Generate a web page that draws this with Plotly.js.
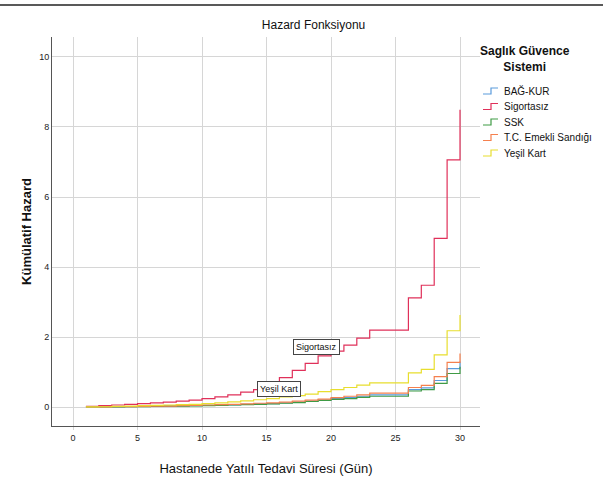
<!DOCTYPE html>
<html>
<head>
<meta charset="utf-8">
<script src="https://cdn.plot.ly/plotly-3.0.1.min.js"></script>
<style>
html,body{margin:0;padding:0;background:#fff;}
#chart{width:603px;height:481px;}
</style>
</head>
<body>
<div id="chart"></div>
<script>
const days = [1,2,3,4,5,6,7,8,9,10,11,12,13,14,15,16,17,18,19,20,21,22,23,24,25,26,27,28,29,30];

const seriesNames = ["BAĞ-KUR", "Sigortasız", "SSK", "T.C. Emekli Sandığı", "Yeşil Kart"];

const bagkur = [0.002,0.005,0.009,0.013,0.018,0.022,0.027,0.033,0.04,0.047,0.055,0.065,0.075,0.09,0.10,0.12,0.145,0.17,0.20,0.24,0.27,0.31,0.35,0.35,0.35,0.50,0.55,0.76,1.10,1.30];
const sigortasiz = [0.02,0.04,0.06,0.08,0.10,0.12,0.14,0.17,0.20,0.24,0.29,0.35,0.43,0.50,0.62,0.84,1.05,1.25,1.46,1.60,1.77,1.97,2.20,2.20,2.20,3.12,3.48,4.82,7.06,8.49];
const ssk = [0.002,0.005,0.008,0.012,0.016,0.02,0.025,0.03,0.035,0.04,0.05,0.06,0.07,0.08,0.09,0.11,0.13,0.16,0.19,0.22,0.24,0.28,0.31,0.31,0.31,0.46,0.50,0.68,0.96,1.15];
const tcEmekli = [0.003,0.006,0.01,0.015,0.02,0.025,0.03,0.04,0.05,0.06,0.07,0.08,0.09,0.11,0.12,0.14,0.17,0.20,0.23,0.27,0.31,0.35,0.40,0.40,0.40,0.56,0.62,0.87,1.28,1.53];
const yesilKart = [0.005,0.01,0.02,0.03,0.04,0.05,0.06,0.07,0.08,0.10,0.12,0.15,0.18,0.21,0.24,0.29,0.33,0.37,0.44,0.50,0.56,0.63,0.69,0.69,0.69,0.98,1.08,1.49,2.18,2.63];

const seriesValues = [bagkur, sigortasiz, ssk, tcEmekli, yesilKart];
const seriesColors = ["#5a9bdc", "#e0305a", "#3f9b45", "#f5804e", "#e8de2e"];

const xTicks = [0,5,10,15,20,25,30];
const yTicks = [0,2,4,6,8,10];

const labelTexts = ["Sigortasız", "Yeşil Kart"];
const labelX = [18.9, 16.0];
const labelY = [1.71, 0.51];

const legendTitle = "Saglık Güvence<br>Sistemi";

const traces = seriesNames.map((name, i) => ({
  x: days,
  y: seriesValues[i],
  name: name,
  type: "scatter",
  mode: "lines",
  line: {shape: "hv", color: seriesColors[i], width: 1.2},
  hoverinfo: "skip",
  showlegend: false
}));

const font = "Liberation Sans, Arial, sans-serif";

// plot area in pixels (for placing the legend block)
const M = {l: 52, r: 123, t: 37, b: 55};
const W = 603, H = 481;
const pw = W - M.l - M.r, ph = H - M.t - M.b;
const px = v => (v - M.l) / pw;
const py = v => (H - M.b - v) / ph;

const annotations = labelTexts.map((t, i) => ({
  x: labelX[i], y: labelY[i], xref: "x", yref: "y",
  text: t, showarrow: false,
  font: {family: font, size: 9, color: "#111"},
  bgcolor: "#ffffff", bordercolor: "#444", borderwidth: 1, borderpad: 2
}));

annotations.push({
  xref: "paper", yref: "paper", x: px(525), y: py(59), xanchor: "center", yanchor: "middle",
  text: "<b>" + legendTitle.replace("<br>", "</b><br><b>") + "</b>", showarrow: false,
  font: {family: font, size: 12, color: "#111"}
});

const shapes = [{type: "line", xref: "paper", yref: "paper", x0: px(0), x1: px(603), y0: py(5), y1: py(5), line: {color: "#222", width: 1.5}}];

seriesNames.forEach((name, i) => {
  const cy = 91 + i * 15.5;
  annotations.push({
    xref: "paper", yref: "paper", x: px(502), y: py(cy), xanchor: "left", yanchor: "middle",
    text: name, showarrow: false, font: {family: font, size: 10, color: "#111"}
  });
  const yl = py(cy + 3), yh = py(cy - 3);
  shapes.push({
    type: "path", xref: "paper", yref: "paper",
    path: `M ${px(483)},${yl} L ${px(491)},${yl} L ${px(491)},${yh} L ${px(498)},${yh}`,
    line: {color: seriesColors[i], width: 1.2}
  });
});

const layout = {
  width: W, height: H,
  margin: M,
  paper_bgcolor: "#fff", plot_bgcolor: "#fff",
  title: {text: "Hazard Fonksiyonu", font: {family: font, size: 12, color: "#111"}, x: 0.52, xanchor: "center", y: 0.948, yanchor: "middle"},
  showlegend: false,
  xaxis: {
    range: [-1.63, 31.55], tickvals: xTicks, ticktext: xTicks.map(String),
    showgrid: true, gridcolor: "#d6d6d6", gridwidth: 1,
    showline: true, linecolor: "#555", linewidth: 1,
    zeroline: false, ticks: "outside", ticklen: 3, tickcolor: "#d6d6d6",
    tickfont: {family: font, size: 9, color: "#222"},
    title: {text: "Hastanede Yatılı Tedavi Süresi (Gün)", font: {family: font, size: 13, color: "#111"}, standoff: 22}
  },
  yaxis: {
    range: [-0.54, 10.57], tickvals: yTicks, ticktext: yTicks.map(String),
    showgrid: true, gridcolor: "#d6d6d6", gridwidth: 1,
    showline: true, linecolor: "#555", linewidth: 1,
    zeroline: false, ticks: "",
    tickfont: {family: font, size: 9, color: "#222"},
    title: {text: "<b>Kümülatif Hazard</b>", font: {family: font, size: 13, color: "#111"}, standoff: 4}
  },
  annotations: annotations,
  shapes: shapes
};

Plotly.newPlot("chart", traces, layout, {displayModeBar: false, staticPlot: true});
</script>
</body>
</html>
